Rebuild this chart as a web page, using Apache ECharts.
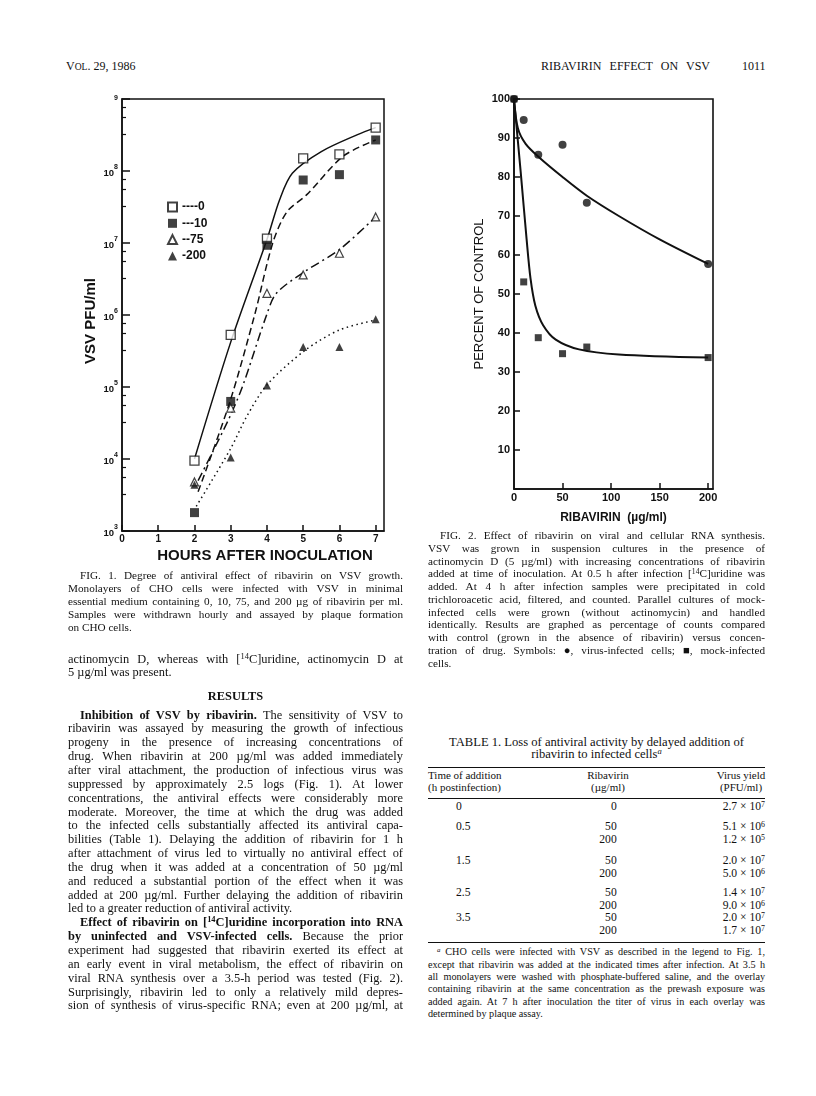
<!DOCTYPE html>
<html>
<head>
<meta charset="utf-8">
<title>Ribavirin effect on VSV</title>
<script src="https://cdn.jsdelivr.net/npm/echarts@6.0.0/dist/echarts.min.js"></script>
<style>
body { margin: 0; background: #fff; }
#page { position: relative; width: 816px; height: 1096px; overflow: hidden; color: #111; }
.ln { position: absolute; white-space: nowrap; line-height: 1.2; font-family: 'Liberation Serif', 'Times New Roman', serif; }
.ln sup { font-size: 0.68em; vertical-align: 0.42em; line-height: 0; }
.rule { position: absolute; left: 428px; width: 337px; border-top: 1.6px solid #111; height: 0; }
#fig1 { position: absolute; left: 40px; top: 85px; width: 380px; height: 490px; }
#fig2 { position: absolute; left: 440px; top: 85px; width: 340px; height: 450px; }
</style>
</head>
<body>
<div id="page">
  <div id="fig1"></div>
  <div id="fig2"></div>
</div>
<script>
// ---- FIG. 1 data (hours after inoculation, VSV PFU/ml) ----
var hours = [2, 3, 4, 5, 6, 7];
var pfu0 = [9.5e3, 5.3e5, 1.15e7, 1.5e8, 1.7e8, 4.0e8];
var pfu10 = [1.8e3, 6.3e4, 9.3e6, 7.5e7, 8.9e7, 2.7e8];
var pfu75 = [4.8e3, 5.1e4, 2.0e6, 3.6e6, 7.2e6, 2.3e7];
var pfu200 = [4.4e3, 1.05e4, 1.05e5, 3.6e5, 3.6e5, 8.7e5];

// hand drawn curves
var fit0Hours = [2, 3, 4, 4.35, 4.7, 5.5, 6.5, 7];
var fit0Pfu = [1.0e4, 4.2e5, 1.12e7, 4.0e7, 9.3e7, 1.86e8, 3.2e8, 4.0e8];
var fit10Hours = [2.1, 2.98, 3.66, 4.16, 4.55, 5.1, 6.1, 7];
var fit10Pfu = [3.5e3, 6.3e4, 1.0e6, 1.0e7, 2.7e7, 4.7e7, 1.6e8, 2.7e8];
var fit75Hours = [2.1, 2.9, 3.32, 3.99, 4.26, 5.04, 6.0, 7];
var fit75Pfu = [5.0e3, 3.2e4, 1.0e5, 1.0e6, 2.0e6, 4.0e6, 8.1e6, 2.3e7];
var fit200Hours = [2.05, 3, 3.43, 4, 5.04, 6, 7];
var fit200Pfu = [2.2e3, 1.4e4, 3.8e4, 1.07e5, 3.2e5, 6.2e5, 8.5e5];

var fig1XTicks = [0, 1, 2, 3, 4, 5, 6, 7];

// ---- FIG. 2 data (ribavirin ug/ml, percent of control) ----
var ribaDose = [0, 10, 25, 50, 75, 200];
var virusPct = [100, 94.6, 85.7, 88.3, 73.4, 57.7];
var mockPct = [100, 53.1, 38.8, 34.7, 36.4, 33.7];

var virusFitDose = [0, 4, 12, 26, 50, 75, 108, 150, 200];
var virusFitPct = [100, 92.5, 88.5, 85, 80, 75.2, 70, 64, 57.7];
var mockFitDose = [0, 7, 13, 17, 22, 30, 43, 67, 108, 200];
var mockFitPct = [100, 81, 64, 54, 47, 42, 38.3, 35.8, 34.5, 33.7];

var fig2XTicks = [0, 50, 100, 150, 200];

var INK = '#111';
var SANS = "'Liberation Sans', Arial, sans-serif";

function pairs(xs, ys) {
    return xs.map(function (x, i) { return [x, ys[i]]; });
}

// Fig 1 - growth curves, log scale
function drawGrowthChart() {
    var myChart = echarts.init(document.getElementById('fig1'));
    var names = {'0': '----0', '10': '---10', '75': '--75', '200': '-200'};
    var curve = function (xs, ys, type) {
        return {
            type: 'line', data: pairs(xs, ys), smooth: 0.3,
            symbol: 'none', silent: true,
            lineStyle: {color: INK, width: 1.5, type: type}
        };
    };
    var option = {
        animation: false,
        grid: {left: 82, top: 14, width: 262, height: 432, outerBoundsMode: 'none',
            show: true, borderColor: INK, borderWidth: 1.5},
        legend: {
            orient: 'vertical', left: 122, top: 111, itemWidth: 9, itemHeight: 9, itemGap: 4.3,
            selectedMode: false,
            data: ['0', '10', '75', '200'],
            formatter: function (n) { return names[n]; },
            textStyle: {color: INK, fontWeight: 'bold', fontSize: 12, lineHeight: 10, fontFamily: SANS}
        },
        xAxis: {
            type: 'value', min: 0, max: 7.23, interval: 1,
            name: 'HOURS AFTER INOCULATION', nameLocation: 'middle', nameGap: 17, nameMoveOverlap: false,
            nameTextStyle: {color: INK, fontWeight: 'bold', fontSize: 15, fontFamily: SANS, padding: [0, 0, 0, 24]},
            axisLine: {lineStyle: {color: INK, width: 1.5}},
            axisTick: {inside: true, length: 6, customValues: fig1XTicks, lineStyle: {color: INK, width: 1.5}},
            axisLabel: {customValues: fig1XTicks, margin: 3, color: INK, fontWeight: 'bold', fontSize: 10, fontFamily: SANS},
            splitLine: {show: false}
        },
        yAxis: {
            type: 'log', logBase: 10, min: 1e3, max: 1e9,
            name: 'VSV PFU/ml', nameLocation: 'middle', nameGap: 24, nameMoveOverlap: false,
            nameTextStyle: {color: INK, fontWeight: 'bold', fontSize: 15, fontFamily: SANS, padding: [0, 12, 0, 0]},
            axisLine: {lineStyle: {color: INK, width: 1.5}},
            axisTick: {inside: true, length: 8, lineStyle: {color: INK, width: 1.5}},
            minorTick: {show: true, splitNumber: 4, length: 4, lineStyle: {color: INK, width: 1.2}},
            axisLabel: {
                margin: 4,
                formatter: function (v) {
                    var e = Math.round(Math.log(v) / Math.LN10);
                    if (e == 9) return '{s|9}';
                    return '{b|10}{s|' + e + '}';
                },
                rich: {
                    b: {fontSize: 9.5, fontWeight: 'bold', color: INK, fontFamily: SANS, lineHeight: 14, verticalAlign: 'bottom'},
                    s: {fontSize: 7, fontWeight: 'bold', color: INK, fontFamily: SANS, lineHeight: 8, verticalAlign: 'top'}
                }
            },
            splitLine: {show: false}, minorSplitLine: {show: false}
        },
        series: [
            curve(fit0Hours, fit0Pfu, 'solid'),
            curve(fit10Hours, fit10Pfu, [7, 4]),
            curve(fit75Hours, fit75Pfu, [9, 4, 2, 4]),
            curve(fit200Hours, fit200Pfu, [1.5, 3.5]),
            {name: '0', type: 'scatter', data: pairs(hours, pfu0), symbol: 'rect', symbolSize: 9, z: 5,
                itemStyle: {color: '#fff', borderColor: INK, borderWidth: 1.3}},
            {name: '10', type: 'scatter', data: pairs(hours, pfu10), symbol: 'rect', symbolSize: 9, z: 5,
                itemStyle: {color: INK}},
            {name: '75', type: 'scatter', data: pairs(hours, pfu75), symbol: 'triangle', symbolSize: 8, z: 5,
                itemStyle: {color: '#fff', borderColor: INK, borderWidth: 1.2}},
            {name: '200', type: 'scatter', data: pairs(hours, pfu200), symbol: 'triangle', symbolSize: 8, z: 5,
                itemStyle: {color: INK}}
        ]
    };
    myChart.setOption(option);
}

// Fig 2 - RNA synthesis vs ribavirin
function drawRnaChart() {
    var myChart = echarts.init(document.getElementById('fig2'));
    var option = {
        animation: false,
        grid: {left: 74, top: 14, width: 199, height: 390, outerBoundsMode: 'none',
            show: true, borderColor: INK, borderWidth: 1.6},
        xAxis: {
            type: 'value', min: 0, max: 205,
            name: 'RIBAVIRIN  (\u00b5g/ml)', nameLocation: 'middle', nameGap: 23, nameMoveOverlap: false,
            nameTextStyle: {color: INK, fontWeight: 'bold', fontSize: 12, fontFamily: SANS},
            axisLine: {lineStyle: {color: INK, width: 1.6}},
            axisTick: {inside: true, length: 6, customValues: [50, 100, 150, 200], lineStyle: {color: INK, width: 1.5}},
            axisLabel: {customValues: fig2XTicks, margin: 3, color: INK, fontWeight: 'bold', fontSize: 11, fontFamily: SANS},
            splitLine: {show: false}
        },
        yAxis: {
            type: 'value', min: 0, max: 100, interval: 10,
            name: 'PERCENT OF CONTROL', nameLocation: 'middle', nameGap: 28, nameMoveOverlap: false,
            nameTextStyle: {color: INK, fontSize: 13, fontFamily: SANS},
            axisLine: {lineStyle: {color: INK, width: 1.6}},
            axisTick: {inside: true, length: 6, lineStyle: {color: INK, width: 1.5}},
            axisLabel: {
                margin: 4, color: INK, fontWeight: 'bold', fontSize: 11, fontFamily: SANS,
                formatter: function (v) { return v === 0 ? '' : v; }
            },
            splitLine: {show: false}
        },
        series: [
            {type: 'line', data: pairs(virusFitDose, virusFitPct), smooth: 0.3,
                symbol: 'none', silent: true, lineStyle: {color: INK, width: 2}},
            {type: 'line', data: pairs(mockFitDose, mockFitPct), smooth: 0.3,
                symbol: 'none', silent: true, lineStyle: {color: INK, width: 2}},
            {name: 'mock-infected', type: 'scatter', data: pairs(ribaDose, mockPct), symbol: 'rect', symbolSize: 7, z: 5,
                itemStyle: {color: INK}},
            {name: 'virus-infected', type: 'scatter', data: pairs(ribaDose, virusPct), symbol: 'circle', symbolSize: 8, z: 6,
                itemStyle: {color: INK}}
        ]
    };
    myChart.setOption(option);
}

// ---- page text ----
var page = document.getElementById('page');

function putLines(b) {
    b.lines.forEach(function (ln, i) {
        var indent = 0, just = true, txt = ln;
        if (txt.charAt(0) == '>') { indent = b.indent || 12; txt = txt.slice(1); }
        if (txt.slice(-1) == '$') { just = false; txt = txt.slice(0, -1); }
        var d = document.createElement('div');
        d.className = 'ln';
        d.style.fontSize = b.size + 'px';
        if (b.bold) d.style.fontWeight = 'bold';
        d.innerHTML = txt;
        page.appendChild(d);
        var w = d.getBoundingClientRect().width;
        var left = b.x + indent;
        if (b.align == 'center') { left = b.x - w / 2; just = false; }
        if (b.align == 'right') { left = b.x - w; just = false; }
        if (just && b.w) {
            var gaps = d.textContent.split(' ').length - 1;
            if (gaps > 0) d.style.wordSpacing = ((b.w - indent - w) / gaps) + 'px';
        }
        d.style.left = left + 'px';
        d.style.top = (b.y + i * (b.step || 0) - b.size * 0.68) + 'px';
    });
}

function putRule(y) {
    var r = document.createElement('div');
    r.className = 'rule';
    r.style.top = y + 'px';
    page.appendChild(r);
}

function drawText() {
    // running heads
    putLines({x: 66, y: 67, size: 12, lines: ['V<span style="font-size:80%">OL</span>. 29, 1986$']});
    putLines({x: 541, y: 67, w: 169, size: 12, lines: ['RIBAVIRIN EFFECT ON VSV']});
    putLines({x: 742, y: 67, size: 12, lines: ['1011$']});

    // left column
    putLines({x: 68, y: 577, w: 335, step: 13.0, size: 11.2, lines: [
        '>FIG. 1. Degree of antiviral effect of ribavirin on VSV growth.',
        'Monolayers of CHO cells were infected with VSV in minimal',
        'essential medium containing 0, 10, 75, and 200 \u00b5g of ribavirin per ml.',
        'Samples were withdrawn hourly and assayed by plaque formation',
        'on CHO cells.$'
    ]});
    putLines({x: 68, y: 660, w: 335, step: 13.85, size: 12.4, lines: [
        'actinomycin D, whereas with [<sup>14</sup>C]uridine, actinomycin D at',
        '5 \u00b5g/ml was present.$'
    ]});
    putLines({x: 235.5, y: 697, size: 12.4, bold: true, align: 'center', lines: ['RESULTS']});
    putLines({x: 68, y: 716, w: 335, step: 13.85, size: 12.4, lines: [
        '><b>Inhibition of VSV by ribavirin.</b> The sensitivity of VSV to',
        'ribavirin was assayed by measuring the growth of infectious',
        'progeny in the presence of increasing concentrations of',
        'drug. When ribavirin at 200 \u00b5g/ml was added immediately',
        'after viral attachment, the production of infectious virus was',
        'suppressed by approximately 2.5 logs (Fig. 1). At lower',
        'concentrations, the antiviral effects were considerably more',
        'moderate. Moreover, the time at which the drug was added',
        'to the infected cells substantially affected its antiviral capa-',
        'bilities (Table 1). Delaying the addition of ribavirin for 1 h',
        'after attachment of virus led to virtually no antiviral effect of',
        'the drug when it was added at a concentration of 50 \u00b5g/ml',
        'and reduced a substantial portion of the effect when it was',
        'added at 200 \u00b5g/ml. Further delaying the addition of ribavirin',
        'led to a greater reduction of antiviral activity.$',
        '><b>Effect of ribavirin on [<sup>14</sup>C]uridine incorporation into RNA</b>',
        '<b>by uninfected and VSV-infected cells.</b> Because the prior',
        'experiment had suggested that ribavirin exerted its effect at',
        'an early event in viral metabolism, the effect of ribavirin on',
        'viral RNA synthesis over a 3.5-h period was tested (Fig. 2).',
        'Surprisingly, ribavirin led to only a relatively mild depres-',
        'sion of synthesis of virus-specific RNA; even at 200 \u00b5g/ml, at'
    ]});

    // right column
    putLines({x: 428, y: 536.7, w: 337, step: 12.75, size: 11.2, lines: [
        '>FIG. 2. Effect of ribavirin on viral and cellular RNA synthesis.',
        'VSV was grown in suspension cultures in the presence of',
        'actinomycin D (5 \u00b5g/ml) with increasing concentrations of ribavirin',
        'added at time of inoculation. At 0.5 h after infection [<sup>14</sup>C]uridine was',
        'added. At 4 h after infection samples were precipitated in cold',
        'trichloroacetic acid, filtered, and counted. Parallel cultures of mock-',
        'infected cells were grown (without actinomycin) and handled',
        'identically. Results are graphed as percentage of counts compared',
        'with control (grown in the absence of ribavirin) versus concen-',
        'tration of drug. Symbols: \u25cf, virus-infected cells; \u25a0, mock-infected',
        'cells.$'
    ]});

    putLines({x: 596.5, y: 743.3, step: 11.9, size: 12.6, align: 'center', lines: [
        'TABLE 1. Loss of antiviral activity by delayed addition of',
        'ribavirin to infected cells<sup><i>a</i></sup>'
    ]});
    putRule(766.5);
    putRule(797.5);
    putRule(941.5);
    putLines({x: 428, y: 776.7, step: 11.6, size: 11, lines: ['Time of addition$', '(h postinfection)$']});
    putLines({x: 608, y: 776.7, step: 11.6, size: 11, align: 'center', lines: ['Ribavirin', '(\u00b5g/ml)']});
    putLines({x: 741, y: 776.7, step: 11.6, size: 11, align: 'center', lines: ['Virus yield', '(PFU/ml)']});

    var rows = [
        ['0', '0', '2.7 \u00d7 10<sup>7</sup>', 808.3],
        ['0.5', '50', '5.1 \u00d7 10<sup>6</sup>', 828.3],
        ['', '200', '1.2 \u00d7 10<sup>5</sup>', 841.3],
        ['1.5', '50', '2.0 \u00d7 10<sup>7</sup>', 861.5],
        ['', '200', '5.0 \u00d7 10<sup>6</sup>', 874.5],
        ['2.5', '50', '1.4 \u00d7 10<sup>7</sup>', 894.3],
        ['', '200', '9.0 \u00d7 10<sup>6</sup>', 907],
        ['3.5', '50', '2.0 \u00d7 10<sup>7</sup>', 919],
        ['', '200', '1.7 \u00d7 10<sup>7</sup>', 931.7]
    ];
    rows.forEach(function (r) {
        if (r[0]) putLines({x: 456, y: r[3], size: 11.6, lines: [r[0] + '$']});
        putLines({x: 616.7, y: r[3], size: 11.6, align: 'right', lines: [r[1]]});
        putLines({x: 765, y: r[3], size: 11.6, align: 'right', lines: [r[2]]});
    });

    putLines({x: 428, y: 953.3, w: 337, step: 12.35, size: 10.2, indent: 9, lines: [
        '><sup><i>a</i></sup> CHO cells were infected with VSV as described in the legend to Fig. 1,',
        'except that ribavirin was added at the indicated times after infection. At 3.5 h',
        'all monolayers were washed with phosphate-buffered saline, and the overlay',
        'containing ribavirin at the same concentration as the prewash exposure was',
        'added again. At 7 h after inoculation the titer of virus in each overlay was',
        'determined by plaque assay.$'
    ]});
}

drawText();
drawGrowthChart();
drawRnaChart();
</script>
</body>
</html>
